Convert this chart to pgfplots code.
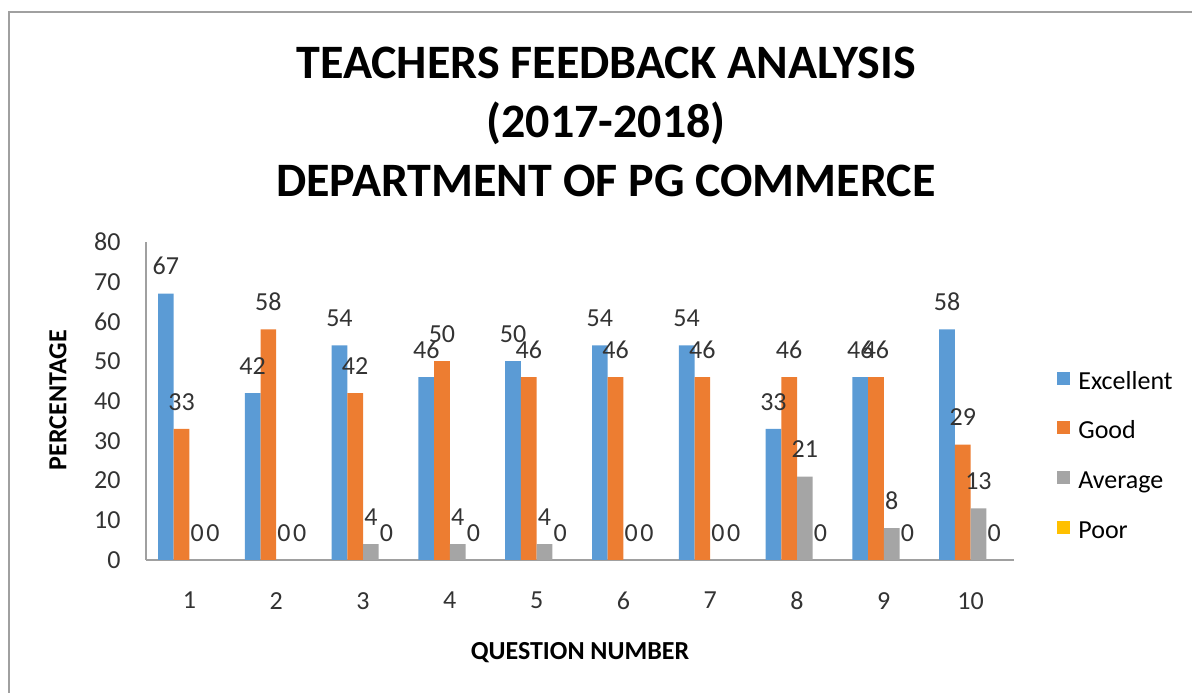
\documentclass[border=0pt]{standalone}
\usepackage{fontspec}
\setmainfont{Carlito}
\usepackage{pgfplots}
\pgfplotsset{compat=1.18}

\definecolor{cExc}{HTML}{5B9BD5}
\definecolor{cGood}{HTML}{ED7D31}
\definecolor{cAvg}{HTML}{A5A5A5}
\definecolor{cPoor}{HTML}{FFC000}
\definecolor{axgray}{HTML}{A0A0A0}
\definecolor{txt}{HTML}{333333}

\newcommand{\lab}{\fontsize{13bp}{15.6bp}\selectfont}

\begin{document}
\begin{tikzpicture}
\useasboundingbox (0,0) rectangle (596bp,346.5bp);
% outer chart frame (cropped on right and bottom)
\draw[axgray, line width=1bp] (4.25bp,0) -- (4.25bp,340.25bp) -- (596bp,340.25bp);

% title
\node[anchor=base, font=\fontsize{24bp}{28bp}\selectfont\bfseries] at (303bp,307bp) {TEACHERS FEEDBACK ANALYSIS};
\node[anchor=base, font=\fontsize{24bp}{28bp}\selectfont\bfseries] at (303bp,277.5bp) {(2017-2018)};
\node[anchor=base, font=\fontsize{24bp}{28bp}\selectfont\bfseries] at (303bp,248bp) {DEPARTMENT OF PG COMMERCE};

\begin{axis}[
  at={(73bp,66.5bp)}, anchor=south west,
  width=434bp, height=159bp, scale only axis,
  ybar=0pt, bar width=7.85bp,
  xmin=0.5, xmax=10.5, ymin=0, ymax=80,
  xtick={1,...,10}, ytick={0,10,...,80},
  axis x line*=bottom, axis y line*=left,
  axis line style={axgray, line width=0.75bp, -},
  major tick length=0pt,
  /pgf/number format/assume math mode=true,
  tick label style={font=\lab, text=txt, inner sep=0pt},
  yticklabel style={xshift=-12.5bp},
  xticklabel style={yshift=-15.9bp},
  xlabel={QUESTION NUMBER}, ylabel={PERCENTAGE},
  label style={font=\fontsize{13bp}{15bp}\selectfont\bfseries},
  xlabel style={at={(axis description cs:0.5,-0.292)}, anchor=center},
  ylabel style={at={(axis description cs:-0.1014,0.503)}, anchor=center, rotate=0},
  nodes near coords,
  every node near coord/.append style={font=\lab, text=txt, anchor=base, inner sep=0pt, yshift=9.4bp},
  legend style={at={(axis description cs:1.0495,0.322)}, anchor=west, draw=none, fill=none,
    inner sep=0pt, font=\lab, column sep=4bp, row sep=13.65bp,
    nodes={inner sep=0pt, text height=8bp, text depth=2.5bp}},
  legend cell align=left,
  legend image code/.code={\fill[#1] (0bp,-0.5bp) rectangle (6.5bp,6bp);},
]
\addplot[fill=cExc, draw=none] coordinates {
  (1,67) (2,42) (3,54) (4,46) (5,50) (6,54) (7,54) (8,33) (9,46) (10,58)};
\addlegendentry{Excellent}
\addplot[fill=cGood, draw=none] coordinates {
  (1,33) (2,58) (3,42) (4,50) (5,46) (6,46) (7,46) (8,46) (9,46) (10,29)};
\addlegendentry{Good}
\addplot[fill=cAvg, draw=none] coordinates {
  (1,0) (2,0) (3,4) (4,4) (5,4) (6,0) (7,0) (8,21) (9,8) (10,13)};
\addlegendentry{Average}
\addplot[fill=cPoor, draw=none] coordinates {
  (1,0) (2,0) (3,0) (4,0) (5,0) (6,0) (7,0) (8,0) (9,0) (10,0)};
\addlegendentry{Poor}
\end{axis}
\end{tikzpicture}
\end{document}
